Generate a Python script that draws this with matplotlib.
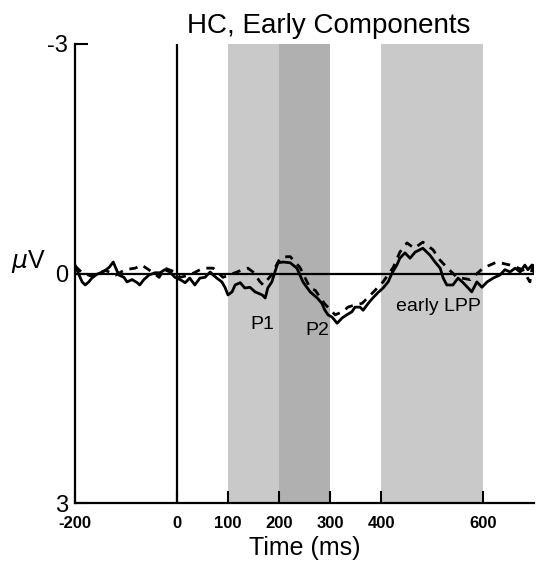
import matplotlib
matplotlib.use("Agg")
import matplotlib.pyplot as plt

plt.rcParams["font.family"] = ["Liberation Sans", "DejaVu Sans"]

# ERP waveforms (uV)
SOLID_T = [-200, -192, -186, -180, -173, -167, -157, -143, -133, -125, -120, -114,
           -104, -98, -88, -78, -73, -65, -55, -43, -33, -24, -14, -4, 6, 16, 25,
           35, 45, 55, 65, 71, 78, 88, 94, 100, 108, 114, 124, 133, 143, 153, 167,
           173, 178, 186, 192, 198, 208, 222, 235, 247, 261, 275, 284, 290, 296,
           304, 314, 324, 333, 343, 349, 359, 365, 375, 384, 394, 404, 414, 422,
           431, 437, 447, 457, 467, 482, 496, 506, 516, 522, 529, 541, 551, 561,
           571, 578, 588, 598, 608, 620, 633, 643, 653, 663, 673, 682, 688, 696, 700]
SOLID_V = [-0.11, 0.02, 0.11, 0.15, 0.11, 0.06, 0.01, -0.03, -0.08, -0.15, -0.07,
           0.02, 0.05, 0.11, 0.08, 0.12, 0.15, 0.08, 0.02, -0.01, -0.01, -0.05,
           -0.02, 0.05, 0.08, 0.12, 0.06, 0.15, 0.06, 0.05, -0.02, 0.02, 0.06, 0.11,
           0.18, 0.28, 0.24, 0.15, 0.12, 0.19, 0.18, 0.24, 0.28, 0.32, 0.19, 0.11,
           -0.02, -0.14, -0.15, -0.14, -0.07, 0.11, 0.24, 0.32, 0.39, 0.48, 0.54,
           0.57, 0.65, 0.58, 0.54, 0.50, 0.44, 0.44, 0.48, 0.39, 0.32, 0.25, 0.19,
           0.11, -0.01, -0.11, -0.20, -0.27, -0.20, -0.28, -0.33, -0.24, -0.15,
           -0.07, 0.06, 0.15, 0.15, 0.06, 0.12, 0.19, 0.24, 0.11, 0.18, 0.11, 0.06,
           0.02, -0.05, -0.02, -0.07, -0.02, -0.11, -0.05, -0.11, -0.02]

DASH_T = [-200, -186, -170, -157, -140, -120, -102, -82, -69, -49, -35, -24, -4, 6,
          25, 51, 71, 90, 110, 129, 139, 149, 163, 169, 185, 202, 216, 222, 241,
          261, 271, 290, 310, 325, 335, 349, 363, 384, 404, 424, 437, 451, 465,
          482, 502, 515, 529, 549, 575, 600, 627, 653, 678, 692, 698, 700]
DASH_V = [-0.10, -0.01, 0.03, 0.00, -0.04, 0.02, -0.05, -0.07, -0.11, -0.02, 0.05,
          -0.07, -0.02, 0.05, 0.02, -0.07, -0.07, 0.05, 0.00, -0.05, -0.07, -0.02,
          0.11, 0.15, 0.02, -0.20, -0.22, -0.22, -0.08, 0.19, 0.22, 0.40, 0.54,
          0.50, 0.44, 0.41, 0.39, 0.25, 0.11, -0.08, -0.28, -0.40, -0.33, -0.41,
          -0.31, -0.18, -0.08, 0.05, 0.08, -0.07, -0.15, -0.11, -0.05, 0.11, -0.14,
          -0.05]

# component windows (ms)
WINDOWS = [(100, 200, "#c9c9c9"), (200, 300, "#b0b0b0"), (400, 600, "#c9c9c9")]
LABELS = [("P1", 167, 0.67), ("P2", 276, 0.74), ("early LPP", 512, 0.43)]
XTICKS = [-200, 0, 100, 200, 300, 400, 600]
YTICKS = [-3, 0, 3]

fig = plt.figure(figsize=(5.38, 5.68), dpi=100)
ax = fig.add_axes([75 / 538, 1 - 503 / 568, (534 - 75) / 538, (503 - 44) / 568])

for x0, x1, c in WINDOWS:
    ax.axvspan(x0, x1, color=c, lw=0, zorder=0)

ax.axhline(0, color="black", lw=1.6, zorder=2)
ax.axvline(0, color="black", lw=1.6, zorder=2)

ax.plot(SOLID_T, SOLID_V, color="black", lw=2.0, zorder=3)
ax.plot(DASH_T, DASH_V, color="black", lw=2.0, ls=(0, (3, 2.5)), zorder=3)

for txt, x, y in LABELS:
    ax.text(x, y, txt, fontsize=14, ha="center", va="center")

ax.set_xlim(-200, 700)
ax.set_ylim(3, -3)
ax.set_xticks(XTICKS)
ax.set_xticklabels([str(t) for t in XTICKS], fontsize=12, fontweight="bold")
ax.set_yticks(YTICKS)
ax.set_yticklabels([str(t) for t in YTICKS], fontsize=17)
ax.tick_params(axis="x", direction="in", length=9, width=1.5, pad=9)
ax.tick_params(axis="y", direction="in", length=9, width=1.5, pad=5)

for s in ["top", "right"]:
    ax.spines[s].set_visible(False)
for s in ["left", "bottom"]:
    ax.spines[s].set_linewidth(1.6)

ax.set_xlabel("Time (ms)", fontsize=18, labelpad=4)
fig.text(28 / 538, 1 - 262 / 568, r"$\mu$V", fontsize=18, ha="center", va="center")
fig.text(329 / 538, 1 - 33 / 568, "HC, Early Components", fontsize=20,
         ha="center", va="baseline")

fig.savefig("out.png", dpi=100)
